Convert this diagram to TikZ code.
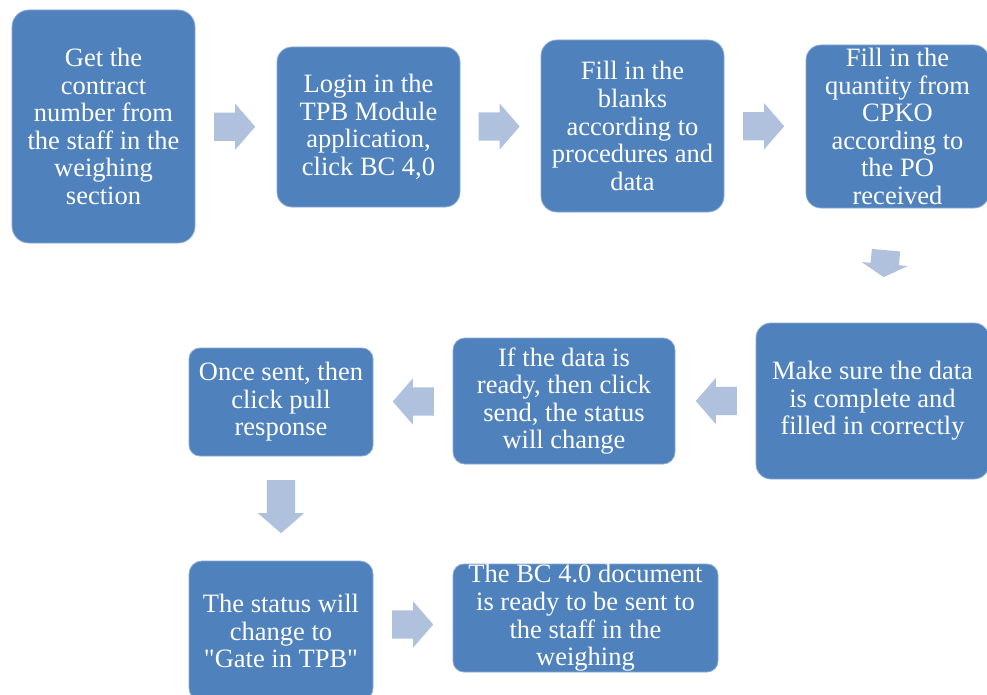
\documentclass[tikz,border=0pt]{standalone}
\usepackage{fontspec}
\setmainfont{Liberation Serif}
\usetikzlibrary{shapes.arrows,calc}
\definecolor{boxblue}{HTML}{4F81BD}
\definecolor{boxedge}{HTML}{8DAAD3}
\definecolor{arrowblue}{HTML}{B0C1DE}
\tikzset{
  stepbox/.style={rectangle, fill=boxblue, draw=boxedge, line width=0.8pt,
    inner sep=0pt, align=center, text=white,
    font=\fontsize{26.5}{27.6}\selectfont},
  flowarrow/.style={single arrow, fill=arrowblue, draw=none, anchor=tail,
    inner xsep=0pt, inner ysep=14pt, single arrow head extend=9pt,
    single arrow tip angle=98, minimum height=41pt}
}
\begin{document}
\begin{tikzpicture}[x=1pt,y=-1pt]
\useasboundingbox (0,0) rectangle (987,695);
\clip (0,0) rectangle (987,695);
\fill[white] (0,0) rectangle (987,695);

\node[stepbox, minimum width=183pt, minimum height=233pt, rounded corners=17pt] (b1) at (103.5,126.5)
  {Get the\\contract\\number from\\the staff in the\\weighing\\section};
\node[stepbox, minimum width=183pt, minimum height=160pt, rounded corners=15pt] (b2) at (368.5,127)
  {Login in the\\TPB Module\\application,\\click BC 4,0};
\node[stepbox, minimum width=183pt, minimum height=172pt, rounded corners=16pt] (b3) at (632.5,126)
  {Fill in the\\blanks\\according to\\procedures and\\data};
\node[stepbox, minimum width=183pt, minimum height=163pt, rounded corners=15pt] (b4) at (897.5,126.5)
  {Fill in the\\quantity from\\CPKO\\according to\\the PO\\received};
\node[stepbox, minimum width=233pt, minimum height=156pt, rounded corners=15pt] (b5) at (872.5,401)
  {Make sure the data\\is complete and\\filled in correctly};
\node[stepbox, minimum width=222pt, minimum height=126pt, rounded corners=12pt] (b6) at (564,401)
  {If the data is\\ready, then click\\send, the status\\will change};
\node[stepbox, minimum width=184pt, minimum height=108pt, rounded corners=11pt] (b7) at (281,402)
  {Once sent, then\\click pull\\response};
\node[stepbox, minimum width=184pt, minimum height=140pt, rounded corners=13pt] (b8) at (281,631)
  {The status will\\change to\\\textquotedbl Gate in TPB\textquotedbl};
\node[stepbox, minimum width=265pt, minimum height=108pt, rounded corners=11pt] (b9) at (585.5,618)
  {The BC 4.0 document\\is ready to be sent to\\the staff in the\\weighing};

\node[flowarrow] (a12) at ($(b1.east)!0.5!(b2.west)+(-22,0)$) {};
\node[flowarrow] (a23) at ($(b2.east)!0.5!(b3.west)+(-22,0)$) {};
\node[flowarrow] (a34) at ($(b3.east)!0.5!(b4.west)+(-22,0)$) {};
\node[flowarrow, minimum height=27pt, single arrow tip angle=121, rotate=-95] (a45)
  at ($(b4.south)!0.5!(b5.north)+(1,-15.5)$) {};
\node[flowarrow, rotate=180] (a56) at ($(b5.west)!0.5!(b6.east)+(21.5,0)$) {};
\node[flowarrow, rotate=180] (a67) at ($(b6.west)!0.5!(b7.east)+(21,0)$) {};
\node[flowarrow, minimum height=53pt, rotate=-90] (a78) at ($(b7.south)!0.5!(b8.north)+(0,-28.5)$) {};
\node[flowarrow] (a89) at ($(b8.east)!0.5!(b9.west)+(-21,0)$) {};
\end{tikzpicture}
\end{document}
